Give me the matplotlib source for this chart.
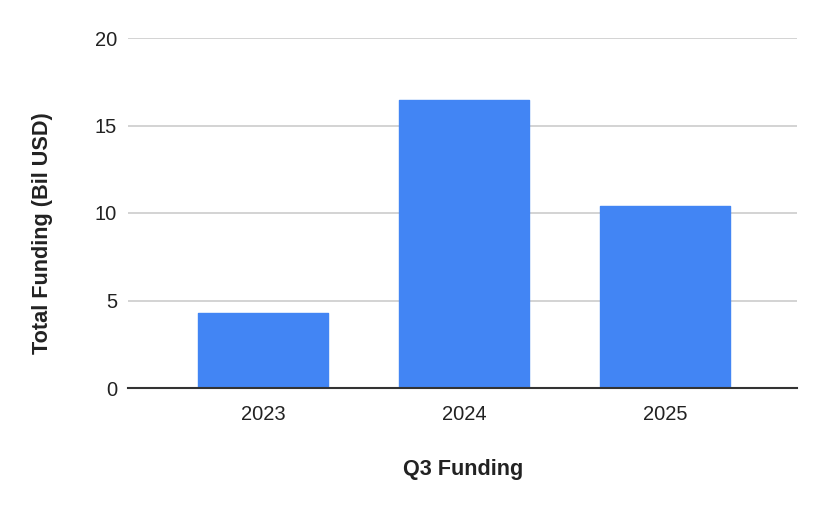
import matplotlib
matplotlib.use("Agg")
import matplotlib.pyplot as plt

categories = ["2023", "2024", "2025"]
values = [4.3, 16.45, 10.4]
yticks = [0, 5, 10, 15, 20]

plt.rcParams['font.family'] = ['Liberation Sans', 'DejaVu Sans']

fig = plt.figure(figsize=(8.24, 5.08), dpi=100)
ax = fig.add_axes([128/824, 1-388/508, (797-128)/824, (388-38)/508])

x = range(len(categories))
ax.bar(x, values, width=0.643, color="#4285F4", edgecolor="#4285F4",
       linewidth=1.0, joinstyle="round", zorder=3)
ax.set_xlim(-0.672, 2.657)
ax.set_ylim(0, 20)
ax.set_yticks(yticks)
ax.set_yticklabels([str(t) for t in yticks])
ax.set_xticks(list(x))
ax.set_xticklabels(categories)

ax.yaxis.grid(True, color="#cccccc", linewidth=1.2, zorder=0)
ax.xaxis.grid(False)
for s in ["top", "right", "left"]:
    ax.spines[s].set_visible(False)
ax.spines["bottom"].set_color("#333333")
ax.spines["bottom"].set_linewidth(1.5)
ax.spines["bottom"].set_zorder(4)

ax.tick_params(axis="both", length=0, labelsize=14.5, colors="#222222")
ax.tick_params(axis="x", pad=12)
ax.tick_params(axis="y", pad=8)

ax.set_xlabel("Q3 Funding", fontsize=15.6, fontweight="bold", color="#222222")
ax.set_ylabel("Total Funding (Bil USD)", fontsize=15.6, fontweight="bold", color="#222222")
ax.xaxis.set_label_coords(0.5015, -0.234)
ax.yaxis.set_label_coords(-0.1285, 0.443)
ax.xaxis.label.set_verticalalignment("center")
ax.yaxis.label.set_verticalalignment("center")

fig.savefig("out.png", dpi=100)
